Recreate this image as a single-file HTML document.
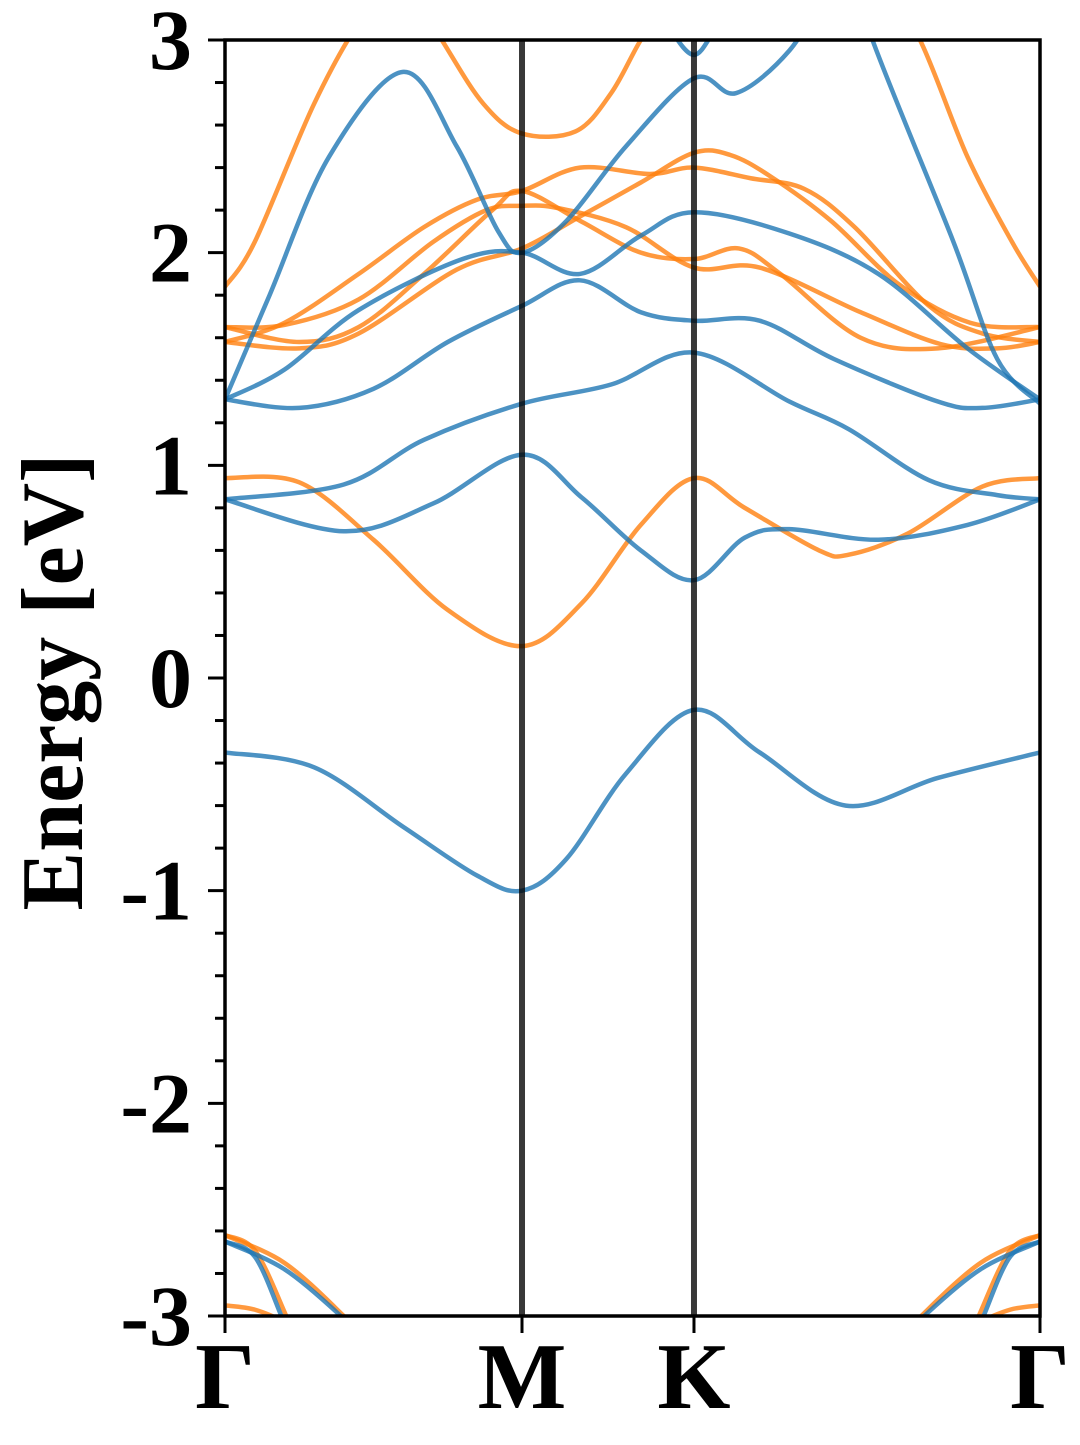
<!DOCTYPE html>
<html><head><meta charset="utf-8"><style>
body{margin:0;background:#fff}
svg text{font-family:"Liberation Serif","Times New Roman",serif;font-weight:bold;fill:#000}
</style></head><body>
<svg id="chart" width="1080" height="1440" viewBox="0 0 1080 1440" xmlns="http://www.w3.org/2000/svg">
<defs><clipPath id="pc"><rect x="225" y="40" width="815" height="1276"/></clipPath></defs>
<g id="bands" clip-path="url(#pc)"></g>
<g id="axes"></g>
</svg>
<script>
const kLabels = ["Γ","M","K","Γ"];
const kPos = [0, 1.0, 1.579, 2.744];
const yTicks = [-3,-2,-1,0,1,2,3];
const yTickLabels = ["-3","-2","-1","0","1","2","3"];
const blueBands = [
 [[0,-0.35],[0.3,-0.42],[0.6,-0.7],[0.85,-0.93],[1,-1.0],[1.15,-0.85],[1.35,-0.45],[1.579,-0.15],[1.8,-0.35],[2.09,-0.6],[2.4,-0.47],[2.744,-0.35]],
 [[0,0.84],[0.4,0.69],[0.7,0.82],[1,1.05],[1.2,0.85],[1.4,0.6],[1.579,0.46],[1.75,0.66],[1.9,0.70],[2.2,0.65],[2.5,0.72],[2.744,0.84]],
 [[0,0.84],[0.4,0.91],[0.67,1.12],[1,1.29],[1.3,1.38],[1.579,1.53],[1.9,1.30],[2.1,1.17],[2.37,0.93],[2.6,0.86],[2.744,0.84]],
 [[0,1.31],[0.25,1.27],[0.5,1.36],[0.75,1.58],[1,1.75],[1.195,1.87],[1.4,1.72],[1.579,1.68],[1.8,1.68],[2.05,1.5],[2.4,1.30],[2.55,1.27],[2.744,1.31]],
 [[0,1.31],[0.2,1.45],[0.45,1.73],[0.8,1.97],[1,2.0],[1.195,1.9],[1.4,2.08],[1.579,2.19],[1.9,2.09],[2.2,1.9],[2.5,1.55],[2.744,1.31]],
 [[0,1.31],[0.15,1.8],[0.35,2.45],[0.6,2.85],[0.78,2.5],[0.92,2.1],[1,2.0],[1.15,2.15],[1.35,2.5],[1.579,2.82],[1.72,2.75],[1.9,2.95],[2.03,3.25]],
 [[2.1,3.4],[2.18,3.0],[2.45,2.06],[2.6,1.5],[2.744,1.29]],
 [[1.45,3.2],[1.5,3.05],[1.579,2.93],[1.65,3.05],[1.72,3.2]],
 [[0,-2.65],[0.1,-2.72],[0.19,-3.0],[0.22,-3.1]],
 [[0,-2.65],[0.2,-2.78],[0.39,-3.0],[0.45,-3.1]],
 [[2.744,-2.65],[2.644,-2.72],[2.554,-3.0],[2.524,-3.1]],
 [[2.744,-2.65],[2.544,-2.78],[2.354,-3.0],[2.294,-3.1]]
];
const orangeBands = [
 [[0,0.94],[0.25,0.92],[0.5,0.65],[0.75,0.32],[1,0.15],[1.2,0.35],[1.4,0.72],[1.579,0.94],[1.75,0.8],[2.0,0.6],[2.1,0.58],[2.3,0.68],[2.55,0.9],[2.744,0.94]],
 [[0,1.84],[0.1,2.05],[0.3,2.7],[0.46,3.1],[0.6,3.3],[0.73,3.0],[0.87,2.7],[1,2.56],[1.18,2.57],[1.3,2.75],[1.4,3.0],[1.5,3.2]],
 [[2.2,3.3],[2.34,3.0],[2.5,2.45],[2.65,2.05],[2.744,1.84]],
 [[0,1.58],[0.2,1.67],[0.45,1.90],[0.67,2.12],[0.85,2.25],[1,2.29],[1.195,2.40],[1.43,2.37],[1.579,2.40],[1.77,2.35],[1.95,2.3],[2.12,2.12],[2.37,1.75],[2.55,1.62],[2.744,1.58]],
 [[0,1.65],[0.25,1.58],[0.45,1.65],[0.67,1.90],[0.9,2.2],[1,2.29],[1.195,2.15],[1.4,2.0],[1.579,1.97],[1.73,2.02],[1.87,1.9],[2.14,1.6],[2.4,1.55],[2.744,1.65]],
 [[0,1.65],[0.2,1.66],[0.45,1.78],[0.7,2.05],[0.88,2.2],[1,2.22],[1.12,2.21],[1.35,2.12],[1.579,1.93],[1.8,1.93],[2.14,1.72],[2.41,1.57],[2.6,1.55],[2.744,1.58]],
 [[0,1.58],[0.25,1.55],[0.45,1.62],[0.78,1.92],[1,2.02],[1.195,2.17],[1.4,2.33],[1.579,2.47],[1.7,2.46],[1.835,2.36],[2.04,2.15],[2.27,1.85],[2.51,1.67],[2.744,1.65]],
 [[0,-2.62],[0.1,-2.69],[0.2,-2.98],[0.23,-3.1]],
 [[0,-2.62],[0.2,-2.75],[0.4,-3.0],[0.46,-3.1]],
 [[0,-2.95],[0.1,-2.97],[0.2,-3.03],[0.25,-3.1]],
 [[2.744,-2.62],[2.644,-2.69],[2.544,-2.98],[2.514,-3.1]],
 [[2.744,-2.62],[2.544,-2.75],[2.344,-3.0],[2.284,-3.1]],
 [[2.744,-2.95],[2.644,-2.97],[2.544,-3.03],[2.494,-3.1]]
];
const X0=225,X1=1040,Y0=1316,Y1=40,EMIN=-3,EMAX=3;
function xs(k){return X0+(k-kPos[0])/(kPos[3]-kPos[0])*(X1-X0);}
function ys(e){return Y0-(e-EMIN)/(EMAX-EMIN)*(Y0-Y1);}
const NS="http://www.w3.org/2000/svg";
const FF='"Liberation Serif","Times New Roman",serif';
function mk(t,a,p){const el=document.createElementNS(NS,t);for(const k in a)el.setAttribute(k,a[k]);p.appendChild(el);return el;}
function pathFor(pts){
 const P=pts.map(p=>[xs(p[0]),ys(p[1])]);
 let d="M"+P[0][0]+","+P[0][1];
 for(let i=0;i<P.length-1;i++){
  const p0=P[Math.max(0,i-1)],p1=P[i],p2=P[i+1],p3=P[Math.min(P.length-1,i+2)];
  const c1=[p1[0]+(p2[0]-p0[0])/6,p1[1]+(p2[1]-p0[1])/6];
  const c2=[p2[0]-(p3[0]-p1[0])/6,p2[1]-(p3[1]-p1[1])/6];
  d+=" C"+c1[0]+","+c1[1]+" "+c2[0]+","+c2[1]+" "+p2[0]+","+p2[1];
 }
 return d;
}
const gb=document.getElementById("bands");
orangeBands.forEach((b,i)=>{
 const p=mk("path",{d:pathFor(b),fill:"none",stroke:"#ff7f0e","stroke-width":4.5,"stroke-opacity":0.8,"stroke-linejoin":"round"},gb);
 
 
});
blueBands.forEach((b,i)=>{
 const p=mk("path",{d:pathFor(b),fill:"none",stroke:"#1f77b4","stroke-width":4.5,"stroke-opacity":0.8,"stroke-linejoin":"round"},gb);
 
 
});
const ga=document.getElementById("axes");
[1,2].forEach(i=>{
 const l=mk("line",{x1:xs(kPos[i]),x2:xs(kPos[i]),y1:Y1,y2:Y0,stroke:"#000","stroke-width":6,"stroke-opacity":0.78},ga);
 
 
});
const fr=mk("rect",{x:X0,y:Y1,width:X1-X0,height:Y0-Y1,fill:"none",stroke:"#000","stroke-width":3.5},ga);


for(let e=EMIN;e<=EMAX+1e-9;e+=0.2){
 const major=Math.abs(e-Math.round(e))<1e-6;
 const t=mk("line",{x1:X0-(major?17:10),x2:X0,y1:ys(e),y2:ys(e),stroke:"#000","stroke-width":3},ga);
 
 
}
yTicks.forEach((v,i)=>{
 const t=mk("text",{x:192,y:ys(v)+29,"text-anchor":"end","font-size":86,"font-family":FF,"font-weight":"bold"},ga);
 t.textContent=yTickLabels[i];
 
 
});
kPos.forEach((k,i)=>{
 const t=mk("line",{x1:xs(k),x2:xs(k),y1:Y0,y2:Y0+17,stroke:"#000","stroke-width":3},ga);
 
 
 const lb=mk("text",{x:xs(k),y:1408,"text-anchor":"middle","font-size":94,"font-family":FF,"font-weight":"bold"},ga);
 lb.textContent=kLabels[i];
 
 
});
const yt=mk("text",{x:0,y:0,"text-anchor":"middle","font-size":88,"font-family":FF,"font-weight":"bold",transform:"translate(82,682) rotate(-90)"},ga);
yt.textContent="Energy [eV]";


</script>
</body></html>
